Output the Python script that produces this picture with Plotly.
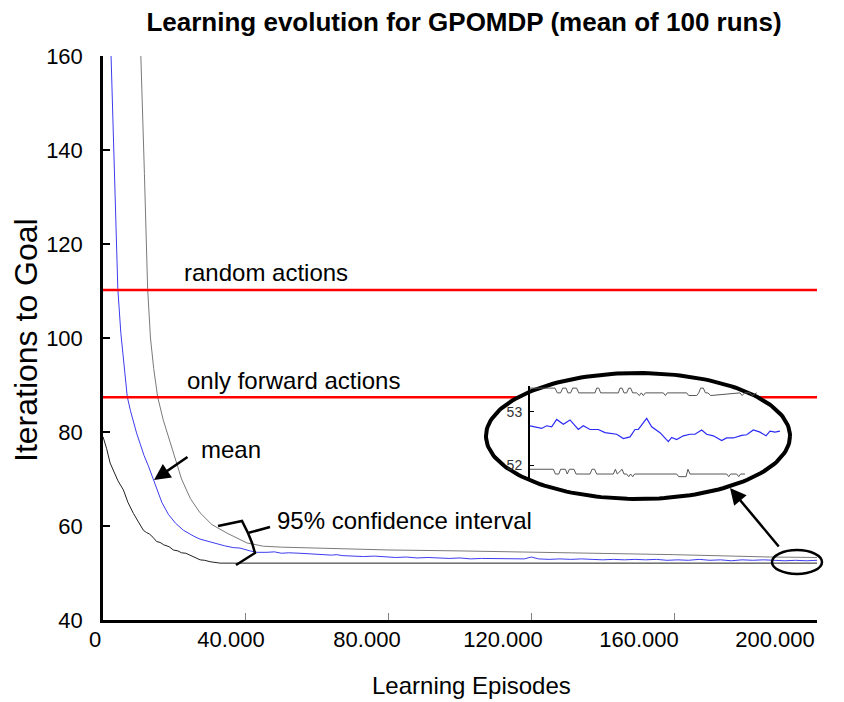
import numpy as np
import plotly.graph_objects as go

# ---- data ----
mean_x = [1800, 2250, 2800, 3300, 3700, 4150, 5000, 5900, 6800, 7700, 8500, 9400,
          10400, 11500, 12700, 14100, 15050, 16500, 18300, 20300, 22500, 24000, 25500,
          27200, 29500, 31900, 34000, 36500, 38400, 41200, 43100, 45900, 48000, 50000,
          52000, 55200, 58000, 61000, 62500, 64000, 65500, 67000, 70000, 73000, 76000,
          79000, 82000, 85000, 88000, 91000, 94000, 97000, 100000, 103000, 106000,
          109000, 112000, 115000, 118000, 120000, 122000, 125000, 128000, 131000,
          134000, 137000, 140000, 143000, 146000, 149000, 152000, 155000, 158000,
          161000, 164000, 167000, 170000, 173000, 176000, 179000, 182000, 185000,
          188000, 191000, 194000, 197000, 200000]
mean_y = [172, 160, 148, 136, 126, 110.5, 101, 93.5, 87.5, 84.5, 82.0, 79.8,
          77.5, 75.0, 72.8, 70.0, 67.8, 65.0, 62.5, 60.6, 59.1, 58.4, 57.8,
          57.2, 56.7, 56.2, 55.8, 55.4, 55.3, 54.7, 54.4, 54.4, 54.5, 54.2,
          54.3, 54.2, 54.1, 53.9, 54.0, 53.8, 53.9, 53.7, 53.6, 53.5, 53.6,
          53.4, 53.3, 53.4, 53.2, 53.3, 53.2, 53.1, 53.2, 53.0, 53.1,
          53.1, 53.0, 53.1, 53.0, 53.4, 53.0, 52.9, 53.0, 52.9,
          53.0, 52.9, 52.8, 52.9, 52.8, 52.9, 52.8, 52.9, 52.7,
          52.8, 52.7, 52.9, 52.7, 52.8, 52.6, 52.8, 52.7, 52.8,
          52.7, 52.6, 52.7, 52.6, 52.7]

upper_x = [10000, 10650, 11600, 12500, 13300, 14200, 15300, 16900, 18300, 19500,
           22000, 24500, 27200, 30500, 34700, 40300, 44900, 50000, 60000, 80000,
           100000, 118000, 140000, 160000, 187000, 200000]
upper_y = [175, 160, 135, 110.5, 100, 93.5, 87.5, 82.5, 79.0, 76.0,
           70.0, 65.8, 62.8, 60.3, 58.5, 56.4, 55.7, 55.5, 55.3, 54.9,
           54.7, 54.5, 54.2, 53.9, 53.4, 53.3]

lower_x = [0, 1000, 2000, 3000, 4200, 5700, 7000, 8500, 10000, 11300, 12200, 13000,
           14000, 15000, 16000, 17000, 18500, 19700, 21000, 22000, 23200, 24400, 26000,
           27200, 28500, 30000, 32800, 36000, 60000, 100000, 150000, 200000]
lower_y = [79.0, 76.5, 73.4, 71.5, 69.6, 67.7, 65.0, 62.7, 60.6, 59.1, 58.6, 58.3,
           57.6, 56.7, 56.5, 56.0, 55.6, 54.9, 54.7, 54.3, 54.2, 53.8, 53.1,
           52.8, 52.7, 52.4, 52.1, 52.1, 52.1, 52.1, 52.1, 52.1]

random_level = 110.2
forward_level = 87.4

# zoomed detail (last part of the run)
inset_mean_x = [188000, 188560, 188800, 189040, 189280, 189600, 189920, 190320, 190560,
                190880, 191280, 191600, 192160, 192480, 192800, 193040, 193200, 193600,
                193840, 194240, 194640, 194800, 195040, 195360, 195680, 195920, 196240,
                196480, 196800, 197200, 197440, 197760, 198160, 198400, 198720, 199040,
                199330, 199520, 199760, 200000]
inset_mean_y = [52.74, 52.69, 52.74, 52.72, 52.86, 52.77, 52.85, 52.67, 52.74,
                52.67, 52.67, 52.61, 52.58, 52.50, 52.53, 52.67, 52.67, 52.88,
                52.72, 52.61, 52.44, 52.52, 52.48, 52.55, 52.58, 52.58, 52.66,
                52.58, 52.55, 52.46, 52.51, 52.51, 52.56, 52.57, 52.66, 52.62,
                52.55, 52.64, 52.62, 52.64]

inset_upper_x = [188000, 189200, 189310, 189470, 189570, 189730, 189820, 189950, 190050,
                 190240, 190340, 191120, 191200, 191300, 191390, 192240, 192320, 192420,
                 192510, 192640, 192740, 192830, 192930, 193120, 193250, 193340, 193440,
                 193540, 194400, 194500, 194590, 195520, 195620, 196000, 196100, 196190,
                 196320, 196420, 196540, 196670, 198080, 198180, 198300, 198560, 198660,
                 198880]
inset_upper_y = [53.45, 53.45, 53.36, 53.36, 53.45, 53.45, 53.36, 53.36, 53.45,
                 53.45, 53.36, 53.36, 53.45, 53.45, 53.36, 53.36, 53.45, 53.45,
                 53.36, 53.36, 53.45, 53.45, 53.36, 53.36, 53.31, 53.36, 53.31,
                 53.36, 53.36, 53.31, 53.36, 53.36, 53.31, 53.31, 53.36, 53.45,
                 53.45, 53.36, 53.36, 53.31, 53.36, 53.31, 53.36, 53.36, 53.31,
                 53.36]

inset_lower_x = [188000, 189120, 189220, 189380, 189470, 189700, 189790, 189890, 190110,
                 190210, 190880, 190980, 191100, 191200, 192000, 192100, 192190, 192420,
                 192510, 192640, 192740, 192830, 192930, 193020, 195040, 195140, 195490,
                 195580, 195680, 197440, 197540, 197630, 197920, 198020, 198110, 198320]
inset_lower_y = [51.92, 51.92, 51.83, 51.83, 51.92, 51.92, 51.83, 51.92, 51.92,
                 51.83, 51.83, 51.92, 51.92, 51.83, 51.83, 51.92, 51.83, 51.92,
                 51.83, 51.83, 51.78, 51.83, 51.78, 51.83, 51.83, 51.78, 51.78,
                 51.92, 51.83, 51.83, 51.78, 51.83, 51.83, 51.78, 51.83, 51.83]

x_ticks = [0, 40000, 80000, 120000, 160000, 200000]
x_tick_text = ["0", "40.000", "80.000", "120.000", "160.000", "200.000"]
y_ticks = [40, 60, 80, 100, 120, 140, 160]

# ---- page geometry (page pixels; the page body adds an 8px margin) ----
OFF = 8
W, H = 844 - OFF, 702 - OFF
P_L, P_T, P_R, P_B = 103, 56, 817, 620       # main plot box
PW, PH = P_R - P_L, P_B - P_T
X_MAX, Y_MIN, Y_MAX = 200000, 40, 160
FONT = "Liberation Sans, Arial, sans-serif"

# the x labels in the original drift left of their ticks:
# "0" sits at 95px and they are 136px apart instead of 142.8
LBL_START, LBL_END = 95, 95 + 5 * 136
PAPER_L = LBL_START                           # paper starts at the first label
PAPER_W = P_R - PAPER_L


def paper_x(px):
    return (px - PAPER_L) / PAPER_W


def paper_y(py):
    return (P_B - py) / PH


def data_x(px):
    return (px - P_L) / PW * X_MAX


def data_y(py):
    return Y_MAX - (py - P_T) / PH * (Y_MAX - Y_MIN)


fig = go.Figure()

fig.add_trace(go.Scatter(x=mean_x, y=mean_y, mode="lines",
                         line=dict(color="#3c3cf0", width=1), showlegend=False))
fig.add_trace(go.Scatter(x=upper_x, y=upper_y, mode="lines",
                         line=dict(color="#7a7a7a", width=1), showlegend=False))
fig.add_trace(go.Scatter(x=lower_x, y=lower_y, mode="lines",
                         line=dict(color="#222222", width=1), showlegend=False))

for lvl in (random_level, forward_level):
    fig.add_trace(go.Scatter(x=[0, X_MAX], y=[lvl, lvl], mode="lines",
                             line=dict(color="#ff0000", width=2.5), showlegend=False))

# big white ellipse holding the zoomed view
t = np.linspace(0, 2 * np.pi, 181)
fig.add_trace(go.Scatter(x=data_x(638 + 152 * np.cos(t)), y=data_y(436 + 63 * np.sin(t)),
                         mode="lines", fill="toself", fillcolor="white",
                         line=dict(color="black", width=4), showlegend=False,
                         hoverinfo="skip"))

# empty trace so the label axis is drawn
fig.add_trace(go.Scatter(x=[], y=[], xaxis="x3", yaxis="y", showlegend=False))

# inset traces
fig.add_trace(go.Scatter(x=inset_upper_x, y=inset_upper_y, mode="lines",
                         line=dict(color="#555555", width=1), xaxis="x2", yaxis="y2",
                         showlegend=False))
fig.add_trace(go.Scatter(x=inset_lower_x, y=inset_lower_y, mode="lines",
                         line=dict(color="#555555", width=1), xaxis="x2", yaxis="y2",
                         showlegend=False))
fig.add_trace(go.Scatter(x=inset_mean_x, y=inset_mean_y, mode="lines",
                         line=dict(color="#2a2af5", width=1.2), xaxis="x2", yaxis="y2",
                         showlegend=False))

# small ellipse at the end of the run
fig.add_shape(type="circle", xref="paper", yref="paper",
              x0=paper_x(772), x1=paper_x(822), y0=paper_y(574), y1=paper_y(550),
              line=dict(color="black", width=2.5), layer="above")

# curly brace for the confidence interval
pts = [(218, 526), (242, 521), (248, 533), (270, 527)]
pts2 = [(248, 533), (252, 543), (255, 553), (236, 565)]
path = "M " + " L ".join(f"{paper_x(a):.4f},{paper_y(b):.4f}" for a, b in pts)
path += " M " + " L ".join(f"{paper_x(a):.4f},{paper_y(b):.4f}" for a, b in pts2)
fig.add_shape(type="path", xref="paper", yref="paper", path=path,
              line=dict(color="black", width=2.5), layer="above")

ann_font = dict(family=FONT, size=24, color="black")
fig.add_annotation(x=paper_x(182), y=paper_y(272), xref="paper", yref="paper",
                   text="random actions", showarrow=False, xanchor="left",
                   yanchor="middle", font=ann_font)
fig.add_annotation(x=paper_x(185), y=paper_y(380), xref="paper", yref="paper",
                   text="only forward actions", showarrow=False, xanchor="left",
                   yanchor="middle", font=ann_font)
fig.add_annotation(x=paper_x(231), y=paper_y(449), xref="paper", yref="paper",
                   text="mean", showarrow=False, xanchor="center",
                   yanchor="middle", font=ann_font)
fig.add_annotation(x=paper_x(275), y=paper_y(520), xref="paper", yref="paper",
                   text="95% confidence interval", showarrow=False, xanchor="left",
                   yanchor="middle", font=ann_font)

# arrows
fig.add_annotation(x=data_x(154), y=data_y(480), xref="x", yref="y", text="",
                   showarrow=True, ax=35, ay=-24, arrowhead=2, arrowsize=1.3,
                   arrowwidth=2.5, arrowcolor="black", standoff=0)
fig.add_annotation(x=data_x(730), y=data_y(488), xref="x", yref="y", text="",
                   showarrow=True, ax=50, ay=60, arrowhead=2, arrowsize=1.3,
                   arrowwidth=2.5, arrowcolor="black", standoff=0)

# axis titles
fig.add_annotation(x=paper_x(471), y=paper_y(685), xref="paper", yref="paper",
                   text="Learning Episodes", showarrow=False, xanchor="center",
                   yanchor="middle", font=ann_font)
fig.add_annotation(x=paper_x(26), y=paper_y(340), xref="paper", yref="paper",
                   text="Iterations to Goal", showarrow=False, textangle=-90,
                   xanchor="center", yanchor="middle",
                   font=dict(family=FONT, size=32, color="black"))

fig.update_layout(
    width=W, height=H,
    margin=dict(l=PAPER_L - OFF, r=844 - P_R, t=P_T - OFF, b=702 - P_B,
                autoexpand=False),
    paper_bgcolor="white",
    plot_bgcolor="rgba(0,0,0,0)",
    font=dict(family=FONT, color="black"),
    title=dict(text="<b>Learning evolution for GPOMDP (mean of 100 runs)</b>",
               x=paper_x(464), xref="paper", xanchor="center",
               y=1 - (22 - OFF) / H, yref="container", yanchor="middle",
               font=dict(family=FONT, size=26, color="black")),
    xaxis=dict(domain=[paper_x(P_L), 1], range=[0, X_MAX], tickvals=x_ticks,
               showticklabels=False, ticks="inside", ticklen=7, tickwidth=1,
               tickcolor="#808080", showline=True, linewidth=2.5, linecolor="black",
               showgrid=False, zeroline=False, automargin=False),
    xaxis3=dict(domain=[paper_x(LBL_START), paper_x(LBL_END)], anchor="free",
                position=0, side="bottom", range=[0, X_MAX], tickvals=x_ticks,
                ticktext=x_tick_text, ticks="", showline=False, showgrid=False,
                zeroline=False, tickfont=dict(size=22), ticklabelstandoff=4,
                automargin=False),
    yaxis=dict(anchor="x", range=[Y_MIN, Y_MAX], tickvals=y_ticks, ticks="inside",
               ticklen=7, tickwidth=2, tickcolor="black", showline=True,
               linewidth=2.5, linecolor="black", showgrid=False, zeroline=False,
               tickfont=dict(size=22), ticklabelstandoff=13, automargin=False),
    xaxis2=dict(domain=[paper_x(530), paper_x(780)], range=[188000, 200000],
                anchor="y2", visible=False, showgrid=False, automargin=False),
    yaxis2=dict(domain=[paper_y(478), paper_y(386)], range=[51.755, 53.49],
                anchor="x2", tickvals=[52, 53], ticks="inside", ticklen=4,
                tickcolor="black", showline=True, linewidth=2, linecolor="black",
                showgrid=False, zeroline=False, automargin=False,
                tickfont=dict(size=14, color="#333333"), ticklabelstandoff=3),
)

fig.write_html("out.html")
